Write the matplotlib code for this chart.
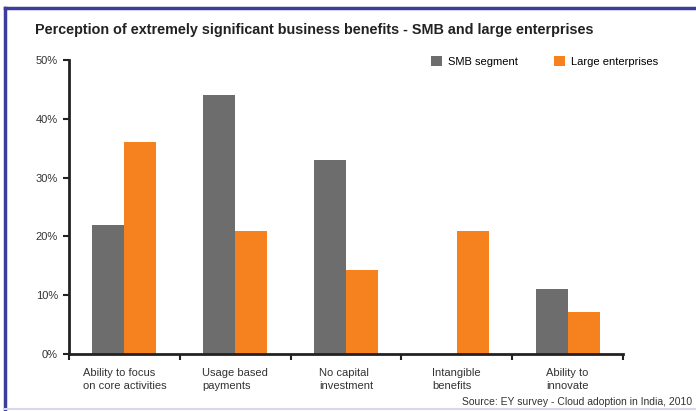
import numpy as np
import matplotlib.pyplot as plt
from matplotlib.lines import Line2D

plt.rcParams['font.family'] = ['Liberation Sans', 'DejaVu Sans']

# Data
categories = ['Ability to focus\non core activities', 'Usage based\npayments',
              'No capital\ninvestment', 'Intangible\nbenefits', 'Ability to\ninnovate']
smb = [22, 44, 33, 0, 11]
large = [36, 21, 14.3, 21, 7.2]
yticks = [0, 10, 20, 30, 40, 50]

gray = '#6d6d6d'
orange = '#f5821f'

fig = plt.figure(figsize=(6.96, 4.11), dpi=100)
ax = fig.add_axes([69/696, 1 - 354/411, (623 - 69)/696, (354 - 60)/411])

x = np.arange(len(categories))
w = 0.288
ax.bar(x - w/2, smb, w, color=gray, label='SMB segment')
ax.bar(x + w/2, large, w, color=orange, label='Large enterprises')

ax.set_xlim(-0.5, len(categories) - 0.5)
ax.set_ylim(0, 50)
ax.set_yticks(yticks)
ax.set_yticklabels([f'{v}%' for v in yticks], fontsize=8, color='#333333')
ax.set_xticks(np.arange(len(categories) + 1) - 0.5)
ax.set_xticklabels([])
ax.set_xticks(x, minor=True)
ax.set_xticklabels(categories, minor=True, fontsize=8, color='#333333', ha='center',
                   multialignment='left', linespacing=1.45)
ax.tick_params(axis='x', which='minor', length=0, pad=10)
ax.tick_params(axis='both', which='major', length=4, width=1.5, color='#222222', direction='out')
ax.tick_params(axis='y', pad=4)

for s in ['top', 'right']:
    ax.spines[s].set_visible(False)
for s in ['left', 'bottom']:
    ax.spines[s].set_linewidth(2)
    ax.spines[s].set_color('#222222')

fig.text(35/696, 1 - 30/411, 'Perception of extremely significant business benefits - SMB and large enterprises',
         fontsize=10.4, fontweight='bold', color='#222222', va='center', ha='left')

ax.legend(loc='upper left', bbox_to_anchor=(431/696, 1 - 56/411), bbox_transform=fig.transFigure,
          ncol=2, frameon=False, fontsize=8, handlelength=1.0, handleheight=1.0,
          handletextpad=0.5, columnspacing=3.3, borderpad=0, borderaxespad=0)

fig.text(692/696, 1 - 402/411, 'Source: EY survey - Cloud adoption in India, 2010',
         fontsize=7.5, color='#333333', ha='right', va='center')

# frame around the chart
fig.add_artist(Line2D([5/696, 5/696], [0, 1 - 8/411], transform=fig.transFigure, color='#3c3c9c', lw=2.5))
fig.add_artist(Line2D([5/696, 1], [1 - 8/411, 1 - 8/411], transform=fig.transFigure, color='#3c3c9c', lw=2.5))
fig.add_artist(Line2D([5/696, 1], [1 - 409/411, 1 - 409/411], transform=fig.transFigure, color='#d8d8ee', lw=1.5))

fig.savefig('out.png', dpi=100)
